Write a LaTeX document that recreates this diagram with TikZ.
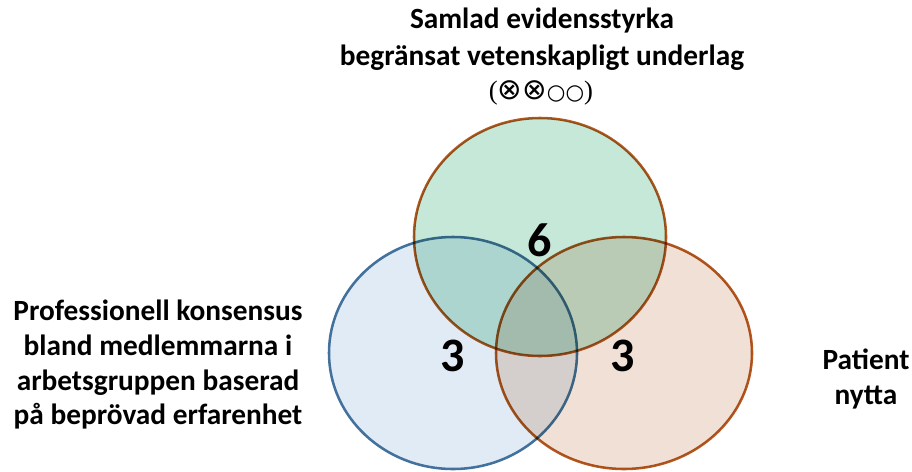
\documentclass[tikz,border=0pt]{standalone}
\usepackage{fontspec}
\setmainfont{Carlito}
\newfontfamily\symfont{DejaVu Sans}
\newfontfamily\parfont{Liberation Serif}
\definecolor{blueline}{HTML}{41719C}
\definecolor{bluefill}{HTML}{E1EBF5}
\definecolor{brownline}{HTML}{B4581E}
\definecolor{orangefill}{HTML}{F1E0D6}
\definecolor{greenfill}{HTML}{C5E8D8}
\tikzset{
    label text/.style={font=\bfseries\fontsize{22}{26}\selectfont, align=center},
    count text/.style={font=\bfseries\fontsize{36}{40}\selectfont},
}
\begin{document}
\begin{tikzpicture}[x=0.75pt, y=-0.75pt]
            \useasboundingbox (0,0) rectangle (912,471);

            \filldraw[fill=bluefill, draw=blueline, line width=1.9pt] (453,353) ellipse (124 and 116);
            \filldraw[fill=orangefill, draw=brownline, line width=1.9pt, blend mode=multiply] (624,353) ellipse (128 and 116);
            \filldraw[fill=greenfill, draw=brownline, line width=1.9pt, blend mode=multiply] (540,237) ellipse (126 and 119);

            \node[label text, font=\bfseries\fontsize{22}{28}\selectfont] (evidens) at (542,39) {Samlad evidensstyrka\\begränsat vetenskapligt underlag};
            \node[font=\fontsize{20}{22}\selectfont] (grade) at (541,93) {\parfont(\symfont{\fontsize{22}{24}\selectfont ⊗⊗}{\fontsize{16}{18}\selectfont ○○}\parfont)};
            \node[label text] (konsensus) at (158,365) {Professionell konsensus\\bland medlemmarna i\\arbetsgruppen baserad\\på beprövad erfarenhet};
            \node[label text] (nytta) at (866,379) {Patient\\nytta};

            \node[count text] (six) at (540,240) {6};
            \node[count text] (leftthree) at (453,356) {3};
            \node[count text] (rightthree) at (623,356) {3};
        \end{tikzpicture}
\end{document}
